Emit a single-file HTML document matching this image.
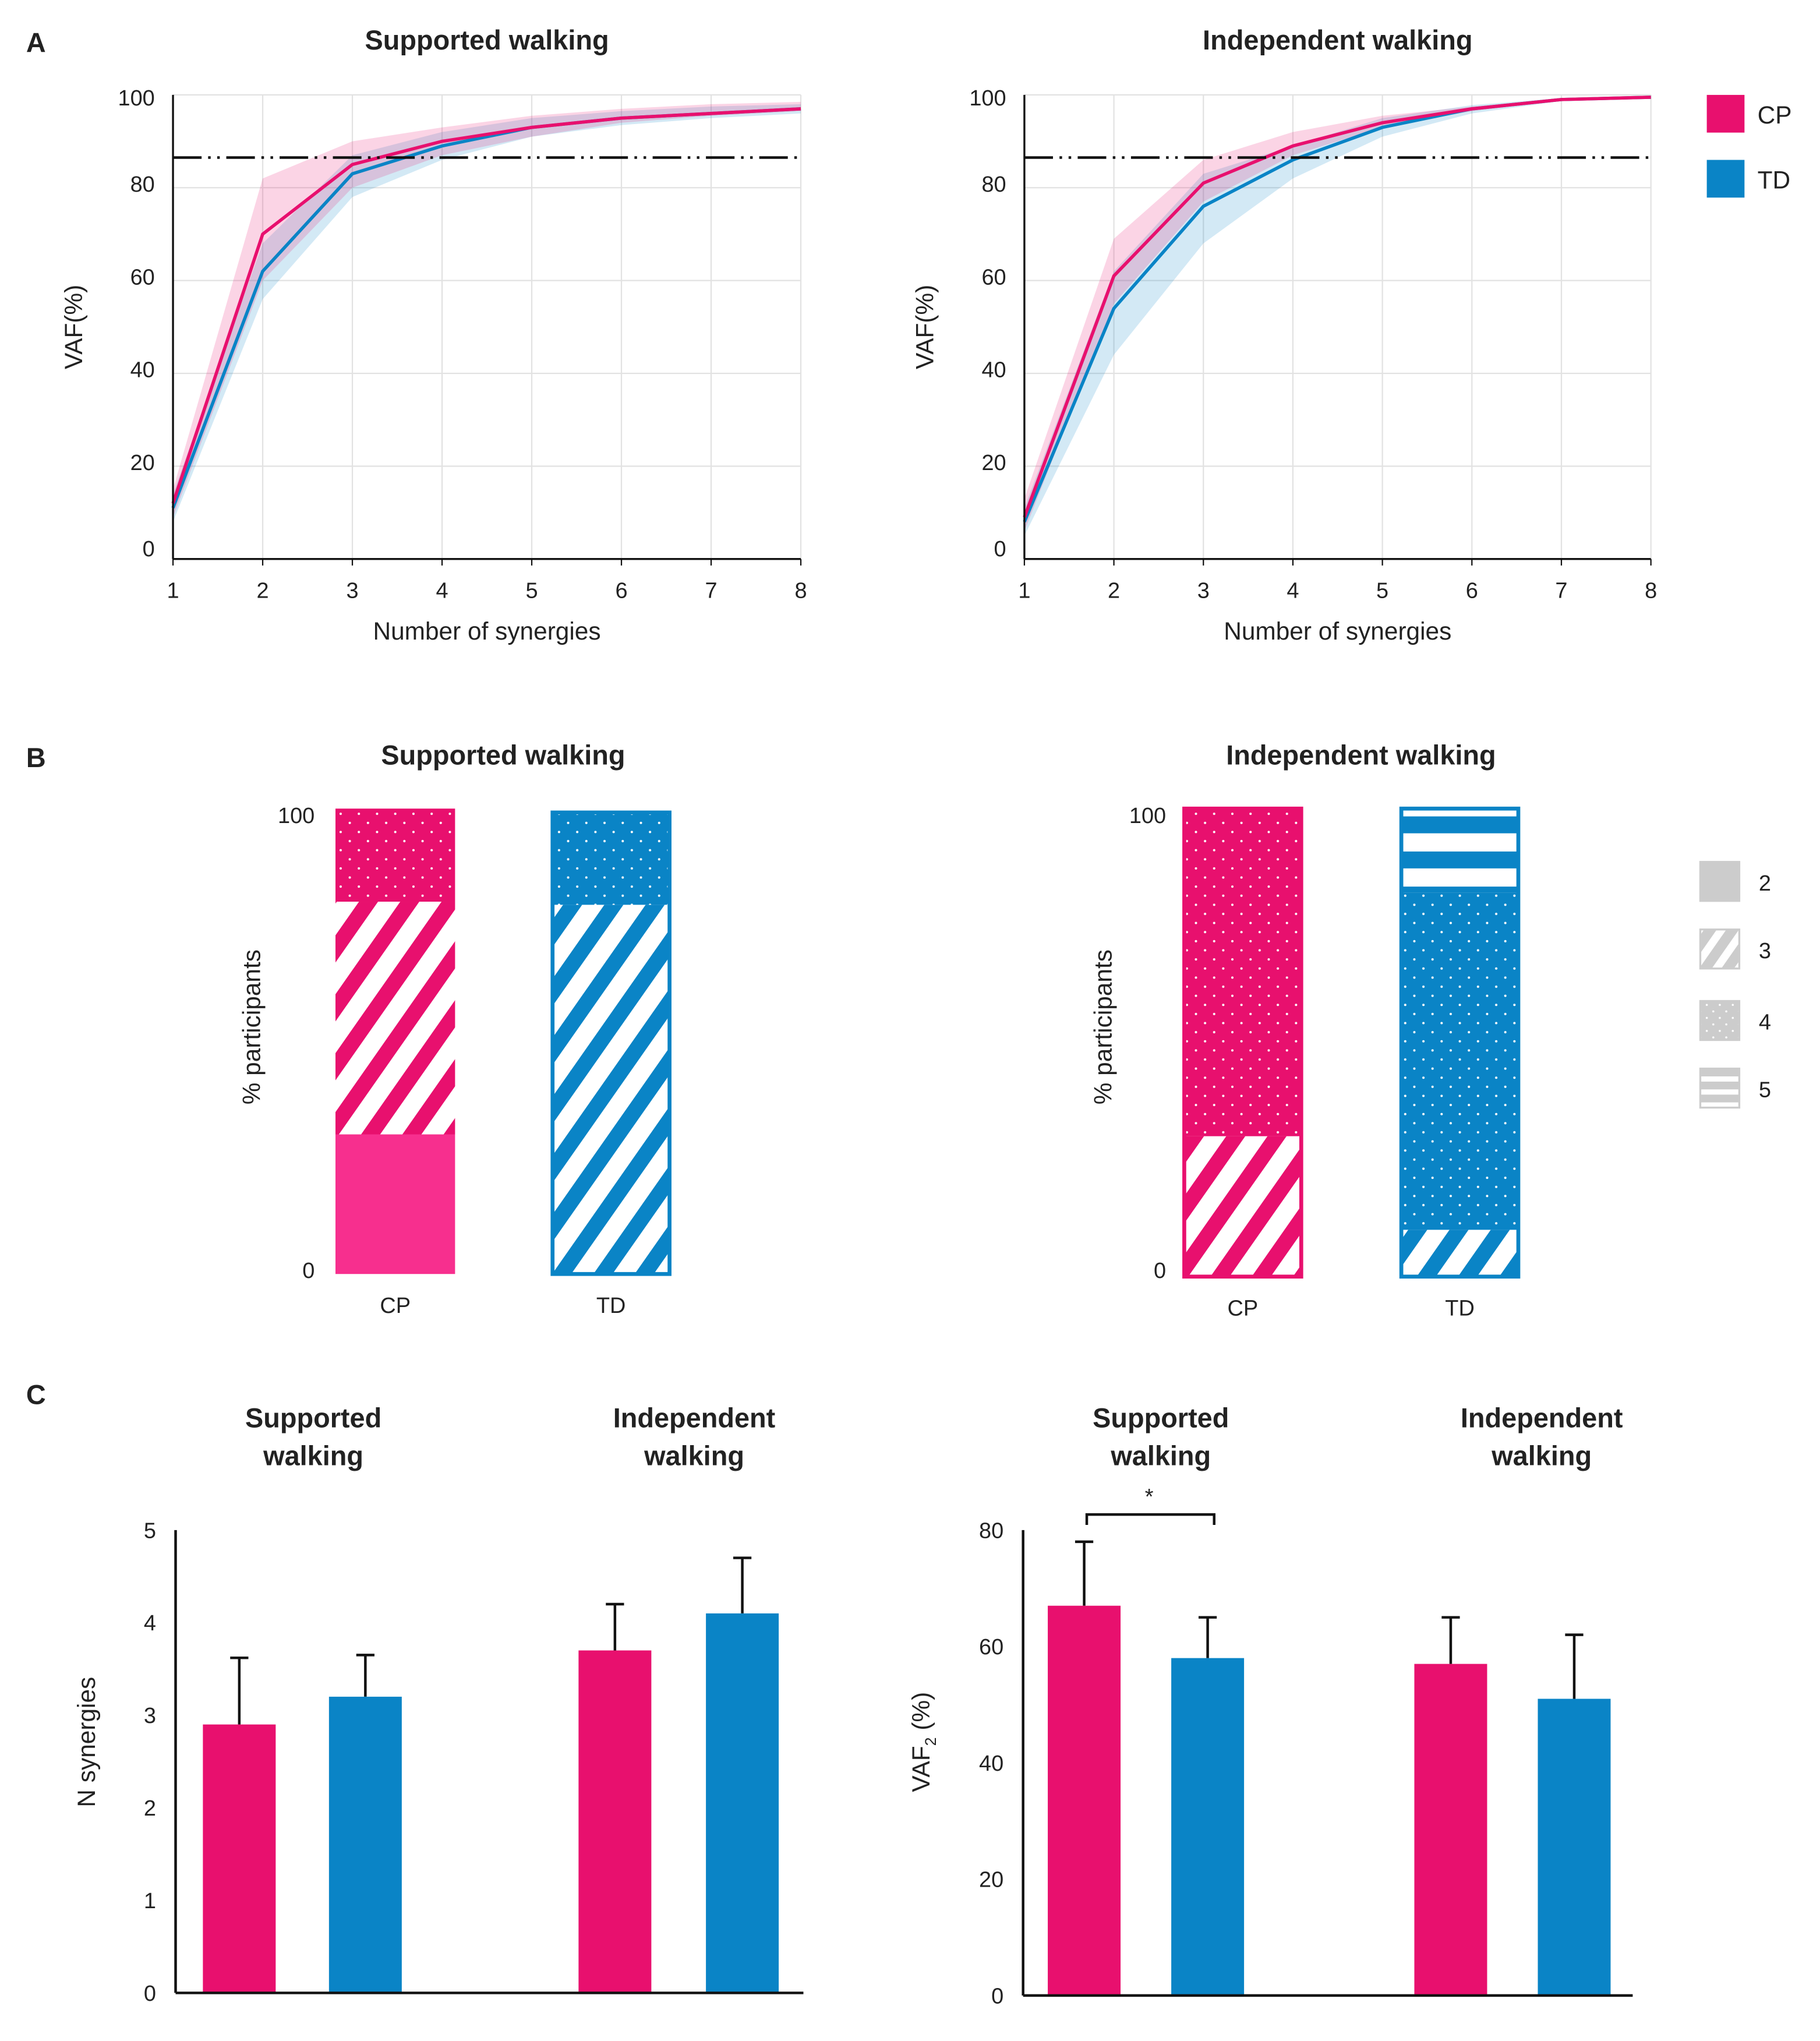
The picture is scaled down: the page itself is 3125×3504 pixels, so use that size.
<!DOCTYPE html>
<html><head><meta charset="utf-8"><style>
html,body{margin:0;padding:0;background:#fff}
svg{display:block}
text{font-family:"Liberation Sans",sans-serif;fill:#222}
.t{font-weight:bold;font-size:21px}
.l{font-size:19px}
.tk{font-size:17px}
</style></head><body>
<svg id="fig" width="3125" height="3504" viewBox="0 0 1400 1570" xmlns="http://www.w3.org/2000/svg">
<defs>
<pattern id="hatchP" patternUnits="userSpaceOnUse" width="26" height="26" patternTransform="rotate(35)"><rect width="26" height="26" fill="#fff"/><rect width="12" height="26" fill="#e8106e"/></pattern>
<pattern id="hatchB" patternUnits="userSpaceOnUse" width="26" height="26" patternTransform="rotate(35)"><rect width="26" height="26" fill="#fff"/><rect width="12" height="26" fill="#0a84c6"/></pattern>
<pattern id="hatchG" patternUnits="userSpaceOnUse" width="14" height="14" patternTransform="rotate(35)"><rect width="14" height="14" fill="#fff"/><rect width="8" height="14" fill="#ccc"/></pattern>
<pattern id="dotP" patternUnits="userSpaceOnUse" width="14" height="14"><rect width="14" height="14" fill="#e8106e"/><circle cx="3" cy="3" r="0.9" fill="#fff"/><circle cx="10" cy="10" r="0.9" fill="#fff"/></pattern>
<pattern id="dotB" patternUnits="userSpaceOnUse" width="14" height="14"><rect width="14" height="14" fill="#0a84c6"/><circle cx="3" cy="3" r="0.9" fill="#fff"/><circle cx="10" cy="10" r="0.9" fill="#fff"/></pattern>
<pattern id="dotG" patternUnits="userSpaceOnUse" width="10" height="10"><rect width="10" height="10" fill="#ccc"/><circle cx="3" cy="3" r="0.8" fill="#fff"/><circle cx="8" cy="8" r="0.8" fill="#fff"/></pattern>
<pattern id="stripeB" patternUnits="userSpaceOnUse" width="20" height="27" y="628"><rect width="20" height="27" fill="#0a84c6"/><rect y="13" width="20" height="14" fill="#fff"/></pattern>
<pattern id="stripeG" patternUnits="userSpaceOnUse" width="10" height="10" y="822"><rect width="10" height="10" fill="#ccc"/><rect y="6" width="10" height="4" fill="#fff"/></pattern>
</defs>
<g id="root"></g>
</svg>
<script>
// Panel A data
const synergies=[1,2,3,4,5,6,7,8];
const supCP=[12,70,85,90,93,95,96,97];
const supCPlo=[9,60,80,87,91,94,95.5,96.5];
const supCPhi=[15,82,90,93,95.5,97,98,98.5];
const supTD=[11,62,83,89,93,95,96,97];
const supTDlo=[8,56,78,86,91,93.5,95,96];
const supTDhi=[14,68,87,92,95,96.5,97.5,98];
const indCP=[9,61,81,89,94,97,99,99.5];
const indCPlo=[6,55,77,87,93,96.5,98.8,99.3];
const indCPhi=[13,69,86,92,95.5,97.5,99.2,99.7];
const indTD=[8,54,76,86,93,97,99,99.5];
const indTDlo=[5,44,68,82,91,96,98.7,99.3];
const indTDhi=[11,62,83,89,95,97.8,99.3,99.7];
const threshold=86.5;
const yTicksA=[0,20,40,60,80,100];
// Panel B data (% of participants per synergy number)
const bSupCP=[{n:2,v:30},{n:3,v:50},{n:4,v:20}];
const bSupTD=[{n:3,v:80},{n:4,v:20}];
const bIndCP=[{n:3,v:30},{n:4,v:70}];
const bIndTD=[{n:3,v:10},{n:4,v:72},{n:5,v:18}];
// Panel C data
const cNsyn=[2.9,3.2,3.7,4.1];
const cNsynErr=[0.72,0.45,0.5,0.6];
const cVaf=[67,58,57,51];
const cVafErr=[11,7,8,11];
const yTicksC1=[0,1,2,3,4,5];
const yTicksC2=[0,20,40,60,80];

const NS="http://www.w3.org/2000/svg";
const root=document.getElementById('root');
const PINK="#e8106e",BLUE="#0a84c6";
function mk(tag,attrs,parent){const e=document.createElementNS(NS,tag);for(const k in attrs)e.setAttribute(k,attrs[k]);(parent||root).appendChild(e);return e;}
function txt(x,y,s,cls,anchor,parent,extra){const e=mk('text',Object.assign({x:x,y:y,class:cls,'text-anchor':anchor||'middle'},extra||{}),parent);e.textContent=s;return e;}

txt(20,40,'A','t','start');txt(20,590,'B','t','start');txt(20,1080,'C','t','start');

function lineChart(x0,x1,y0,y1,title,series,nm){
  const g=mk('g',{});
  
  
  const sx=v=>x0+(v-1)/7*(x1-x0), sy=v=>y0-(v/100)*(y0-y1);
  txt((x0+x1)/2,38,title,'t','middle',g);
  for(const s of synergies){mk('line',{x1:sx(s),x2:sx(s),y1:y1,y2:y0,stroke:'#e2e2e2','stroke-width':1},g);}
  for(const t of yTicksA){mk('line',{x1:x0,x2:x1,y1:sy(t),y2:sy(t),stroke:'#e2e2e2','stroke-width':1},g);
    const tl=txt(x0-14,sy(t)+(t==100?8:t==0?-2:3),String(t),'tk','end',g);
    
    }
  for(const s of series){
    let d='';synergies.forEach((v,i)=>{d+=(i?'L':'M')+sx(v)+','+sy(s.hi[i]);});
    for(let i=synergies.length-1;i>=0;i--)d+='L'+sx(synergies[i])+','+sy(s.lo[i]);
    const b=mk('path',{d:d+'Z',fill:s.c,'fill-opacity':0.18,stroke:'none'},g);
    
    
  }
  for(const s of series){
    const pts=synergies.map((v,i)=>sx(v)+','+sy(s.m[i])).join(' ');
    const l=mk('polyline',{points:pts,fill:'none',stroke:s.c,'stroke-width':2.5},g);
    
    
  }
  const th=mk('line',{x1:x0,x2:x1,y1:sy(threshold),y2:sy(threshold),stroke:'#111','stroke-width':2,'stroke-dasharray':'22,5,2,5,2,5'},g);
  
  
  mk('line',{x1:x0,x2:x0,y1:y1,y2:y0,stroke:'#111','stroke-width':1.5},g);
  mk('line',{x1:x0,x2:x1,y1:y0,y2:y0,stroke:'#111','stroke-width':1.5},g);
  for(const s of synergies){mk('line',{x1:sx(s),x2:sx(s),y1:y0,y2:y0+5,stroke:'#111'},g);
    const tl=txt(sx(s),y0+30,String(s),'tk','middle',g);
    
    }
  const xt=txt((x0+x1)/2,y0+62,'Number of synergies','l','middle',g);
  
  
  const yt=txt(0,0,'VAF(%)','l','middle',g,{transform:`translate(${x0-70},${(y0+y1)/2}) rotate(-90)`});
  
  
}
lineChart(133,616,430,73,'Supported walking',[{n:'td',c:BLUE,m:supTD,lo:supTDlo,hi:supTDhi},{n:'cp',c:PINK,m:supCP,lo:supCPlo,hi:supCPhi}],'supported-vaf-chart');
lineChart(788,1270,430,73,'Independent walking',[{n:'td',c:BLUE,m:indTD,lo:indTDlo,hi:indTDhi},{n:'cp',c:PINK,m:indCP,lo:indCPlo,hi:indCPhi}],'independent-vaf-chart');
// legend A
[['CP',PINK,73],['TD',BLUE,123]].forEach(([n,c,y])=>{
  const r=mk('rect',{x:1313,y:y,width:29,height:29,fill:c});
  
  
  const t=txt(1352,y+22,n,'l','start');
  
  
});

// Panel B
const fillFor={CP:{2:'#f72f8e',3:'url(#hatchP)',4:'url(#dotP)',5:'url(#stripeB)'},TD:{2:BLUE,3:'url(#hatchB)',4:'url(#dotB)',5:'url(#stripeB)'}};
function stack(x,w,y0,y1,data,grp,outline){
  const sy=v=>y0-v/100*(y0-y1);let cum=0;
  for(const d of data){
    const r=mk('rect',{x:x,y:sy(cum+d.v),width:w,height:sy(cum)-sy(cum+d.v),fill:fillFor[grp][d.n]});
    
    
    cum+=d.v;
  }
  if(outline)mk('rect',{x:x,y:y1,width:w,height:y0-y1,fill:'none',stroke:outline,'stroke-width':3});
  const t=txt(x+w/2,y0+30,grp,'tk');
  
  
}
function stackChart(cx,ax,title){
  txt(cx,588,title,'t');
  txt(ax,633,'100','tk','end');txt(ax,983,'0','tk','end');
  const yt=txt(0,0,'% participants','l','middle',null,{transform:`translate(${ax-42},790) rotate(-90)`});
  
  
}
stackChart(387,242,'Supported walking');
stack(258,92,980,622,bSupCP,'CP',null);
stack(425,90,980,625,bSupTD,'TD',BLUE);
stackChart(1047,897,'Independent walking');
stack(911,90,982,622,bIndCP,'CP',PINK);
stack(1078,90,982,622,bIndTD,'TD',BLUE);
[['2','#ccc',663],['3','url(#hatchG)',715],['4','url(#dotG)',770],['5','url(#stripeG)',822]].forEach(([n,f,y])=>{
  const r=mk('rect',{x:1308,y:y,width:30,height:30,fill:f,stroke:'#ccc','stroke-width':1.5});
  
  
  txt(1353,y+22,n,'tk','start');
});

// Panel C
function barChart(ax,axEnd,y0,yTop,maxV,ticks,vals,errs,xs,titles,nm){
  const g=mk('g',{});
  
  
  const sy=v=>y0-v/maxV*(y0-yTop);
  titles.forEach(([x,a,b])=>{txt(x,1098,a,'t','middle',g);txt(x,1127,b,'t','middle',g);});
  vals.forEach((v,i)=>{
    const c=i%2?BLUE:PINK;
    const cx=xs[i]+28;
    const e=mk('line',{x1:cx,x2:cx,y1:sy(v),y2:sy(v+errs[i]),stroke:'#111','stroke-width':2},g);
    
    
    mk('line',{x1:cx-7,x2:cx+7,y1:sy(v+errs[i]),y2:sy(v+errs[i]),stroke:'#111','stroke-width':2},g);
    const r=mk('rect',{x:xs[i],y:sy(v),width:56,height:y0-sy(v),fill:c},g);
    
    
  });
  mk('line',{x1:ax,x2:ax,y1:yTop,y2:y0,stroke:'#111','stroke-width':2},g);
  mk('line',{x1:ax,x2:axEnd,y1:y0,y2:y0,stroke:'#111','stroke-width':2},g);
  ticks.forEach(t=>{const tl=txt(ax-15,sy(t)+6,String(t),'tk','end',g);
    
    });
}
barChart(135,618,1533,1177,5,yTicksC1,cNsyn,cNsynErr,[156,253,445,543],[[241,'Supported','walking'],[534,'Independent','walking']],'n-synergies-chart');
const yn=txt(0,0,'N synergies','l','middle',null,{transform:'translate(73,1340) rotate(-90)'});


barChart(787,1256,1535,1177,80,yTicksC2,cVaf,cVafErr,[806,901,1088,1183],[[893,'Supported','walking'],[1186,'Independent','walking']],'vaf2-chart');
const yv=mk('text',{x:0,y:0,class:'l','text-anchor':'middle',transform:'translate(715,1340) rotate(-90)'});
yv.innerHTML='VAF<tspan font-size="12" dy="5">2</tspan><tspan dy="-5"> (%)</tspan>';


const br=mk('path',{d:'M836,1173 L836,1165 L934,1165 L934,1173',fill:'none',stroke:'#111','stroke-width':2});


txt(884,1157,'*','tk');
</script>
</body></html>
